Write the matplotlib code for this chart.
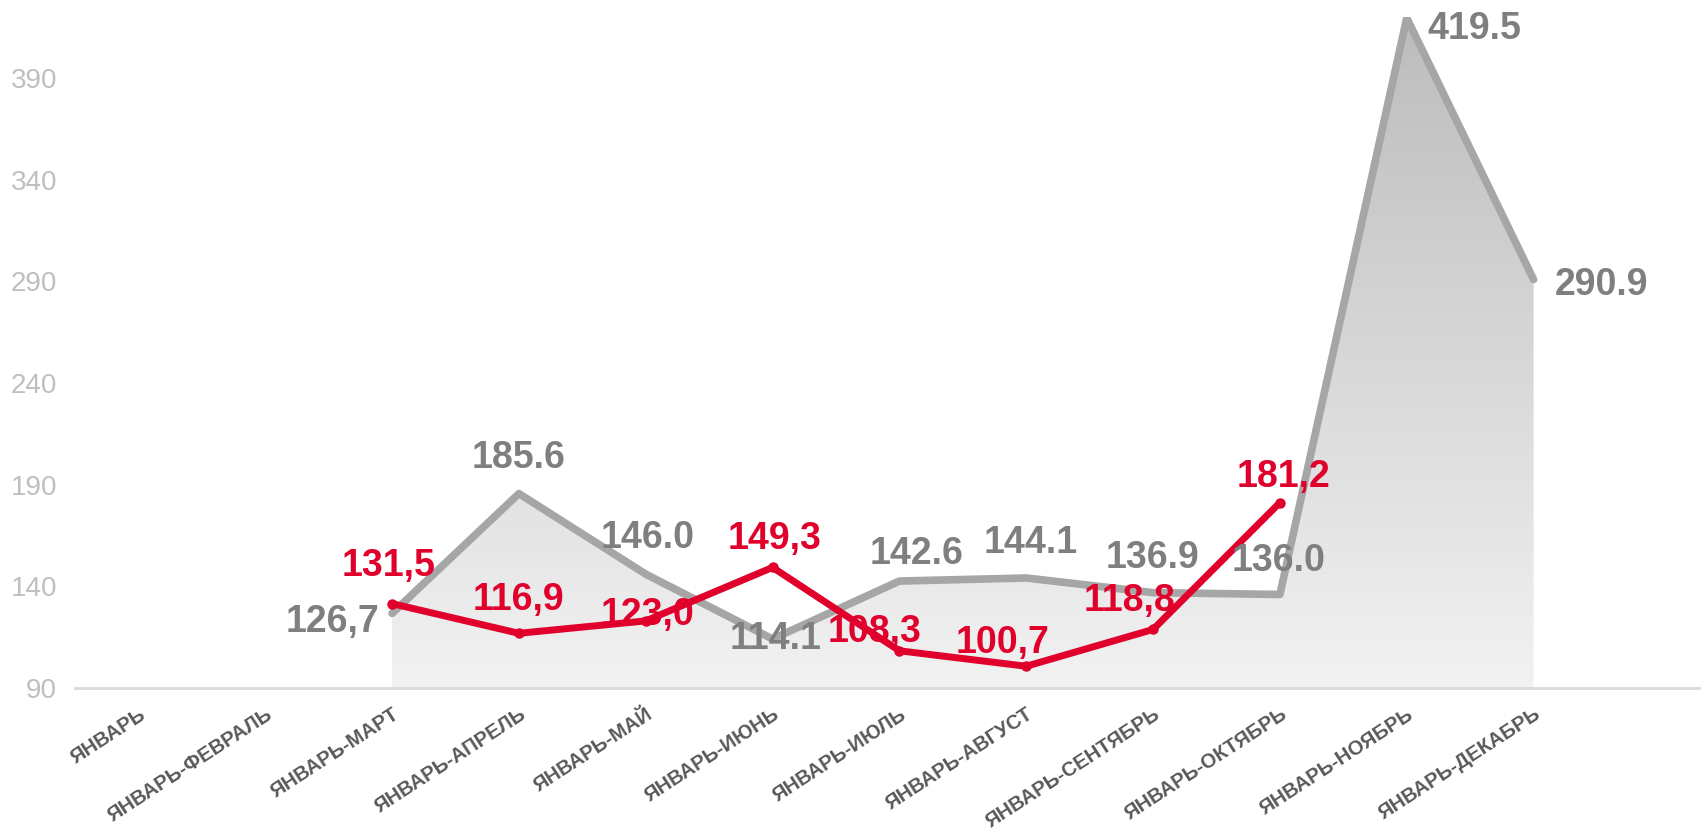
import numpy as np
import matplotlib
matplotlib.use("Agg")
import matplotlib.pyplot as plt
from matplotlib.colors import LinearSegmentedColormap

plt.rcParams["font.family"] = ["Liberation Sans", "DejaVu Sans"]

# Data
categories = ["ЯНВАРЬ", "ЯНВАРЬ-ФЕВРАЛЬ", "ЯНВАРЬ-МАРТ", "ЯНВАРЬ-АПРЕЛЬ",
              "ЯНВАРЬ-МАЙ", "ЯНВАРЬ-ИЮНЬ", "ЯНВАРЬ-ИЮЛЬ", "ЯНВАРЬ-АВГУСТ",
              "ЯНВАРЬ-СЕНТЯБРЬ", "ЯНВАРЬ-ОКТЯБРЬ", "ЯНВАРЬ-НОЯБРЬ", "ЯНВАРЬ-ДЕКАБРЬ"]
gray_values = [np.nan, np.nan, 126.7, 185.6, 146.0, 114.1, 142.6, 144.1,
               136.9, 136.0, 419.5, 290.9]
gray_labels = ["", "", "126,7", "185.6", "146.0", "114.1", "142.6", "144.1",
               "136.9", "136.0", "419.5", "290.9"]
red_values = [np.nan, np.nan, 131.5, 116.9, 123.0, 149.3, 108.3, 100.7,
              118.8, 181.2, np.nan, np.nan]
red_labels = ["", "", "131,5", "116,9", "123,0", "149,3", "108,3", "100,7",
              "118,8", "181,2", "", ""]
y_ticks = [90, 140, 190, 240, 290, 340, 390]

# label offsets in pixels (right, up) from each point
gray_offsets = [None, None, (-60, -9), (0, 36), (2, 36), (3, 0), (17, 27),
                (4, 35), (-1, 35), (-1, 33), (68, -11), (68, -5)]
red_offsets = [None, None, (-4, 38), (0, 33), (2, 6), (2, 28), (-25, 19),
               (-24, 23), (-24, 28), (4, 26), None, None]

GRAY_LINE = "#a6a6a6"
GRAY_TEXT = "#7f7f7f"
RED = "#e0002b"
YMIN, YMAX = 90, 420
XMIN, XMAX = -0.5, 12.32

fig = plt.figure(figsize=(17.01, 8.35), dpi=100)
ax = fig.add_axes([75 / 1701, 147 / 835, 1 - 75 / 1701, (688 - 17) / 835])

x = np.arange(len(categories))
gx = x[~np.isnan(gray_values)]
gy = np.array(gray_values)[~np.isnan(gray_values)]

# gradient filled area under the gray series
poly = ax.fill_between(gx, gy, YMIN, color="none", lw=0)
cmap = LinearSegmentedColormap.from_list("fade", ["#f2f2f2", "#bcbcbc"])
grad = np.linspace(0, 1, 256).reshape(-1, 1)
im = ax.imshow(grad, extent=[XMIN, XMAX, YMIN, YMAX], origin="lower",
               aspect="auto", cmap=cmap, zorder=1, interpolation="bicubic")
im.set_clip_path(poly.get_paths()[0], transform=ax.transData)

ax.plot(x, gray_values, color=GRAY_LINE, lw=5.5, solid_capstyle="round",
        solid_joinstyle="round", zorder=2)
ax.plot(x, red_values, color=RED, lw=5, solid_capstyle="round",
        solid_joinstyle="round", marker="o", markersize=6.5, zorder=3)

for i in range(len(categories)):
    if gray_offsets[i] is not None:
        ax.annotate(gray_labels[i], (x[i], gray_values[i]), xytext=gray_offsets[i],
                    textcoords="offset pixels", ha="center", va="center",
                    fontsize=27, fontweight="bold", color=GRAY_TEXT, zorder=4,
                    annotation_clip=False)
for i in range(len(categories)):
    if red_offsets[i] is not None:
        ax.annotate(red_labels[i], (x[i], red_values[i]), xytext=red_offsets[i],
                    textcoords="offset pixels", ha="center", va="center",
                    fontsize=27, fontweight="bold", color=RED, zorder=5,
                    annotation_clip=False)

ax.set_xlim(XMIN, XMAX)
ax.set_ylim(YMIN, YMAX)
ax.set_yticks(y_ticks)
ax.set_xticks(x)
ax.set_xticklabels(categories, rotation=33, ha="right", va="top",
                   rotation_mode="anchor", fontsize=14.5, fontweight="bold",
                   color="#595959")
ax.tick_params(axis="x", length=0, pad=12)
ax.tick_params(axis="y", length=0, pad=13, labelsize=20, labelcolor="#bfbfbf")

for side in ["left", "right", "top"]:
    ax.spines[side].set_visible(False)
ax.spines["bottom"].set_color("#d9d9d9")
ax.spines["bottom"].set_linewidth(2)
ax.set_facecolor("white")

fig.savefig("out.png", dpi=100)
